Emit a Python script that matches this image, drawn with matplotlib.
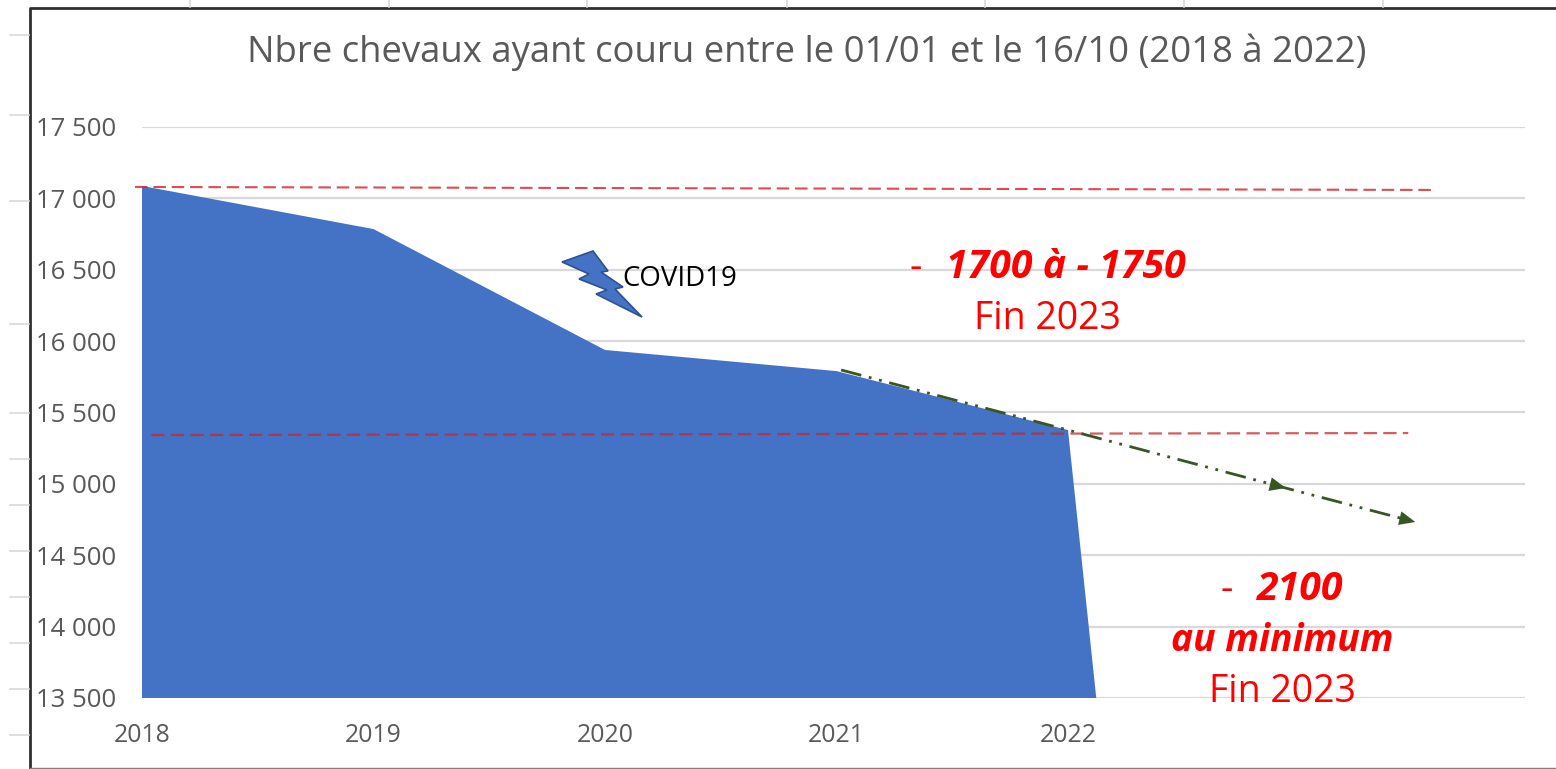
import numpy as np
import matplotlib
matplotlib.use('Agg')
import matplotlib.pyplot as plt
from matplotlib.patches import Polygon

plt.rcParams['font.family'] = ['Open Sans', 'DejaVu Sans']

#values
years = [2018, 2019, 2020, 2021, 2022, 2023]
horses = [17087, 16785, 15938, 15790, 15377, 0]
year_labels = ['2018', '2019', '2020', '2021', '2022']
y_ticks = [13500, 14000, 14500, 15000, 15500, 16000, 16500, 17000, 17500]
y_labels = ['13 500', '14 000', '14 500', '15 000', '15 500', '16 000', '16 500', '17 000', '17 500']
top_x = [2017.97, 2023.58]
top_y = [17080, 17059]
low_x = [2018.04, 2023.47]
low_y = [15342, 15356]
trend_x = [2021.02, 2022.0, 2022.94, 2023.5]
trend_y = [15798, 15377, 14971, 14733]

W, H = 1556, 769
fig = plt.figure(figsize=(W / 100, H / 100), dpi=100)

#main chart, placed on pixel positions
ax = fig.add_axes([142 / W, 1 - 698 / H, (1525 - 142) / W, (698 - 127) / H])
ax.set_xlim(2018, 2018 + (1525 - 142) / 231.5)
ax.set_ylim(13500, 17500)
ax.fill_between(years, horses, 13500, color='#4472C4', lw=0, zorder=2)
ax.set_yticks(y_ticks)
ax.set_yticklabels(y_labels, fontsize=18.5, color='#595959')
ax.set_xticks(years[:5])
ax.set_xticklabels(year_labels, fontsize=17.8, color='#595959')
ax.tick_params(length=0, axis='y', pad=18.7)
ax.tick_params(length=0, axis='x', pad=18)
ax.grid(axis='y', color='#D9D9D9', lw=1.6, zorder=1)
ax.set_axisbelow(True)
for s in ax.spines.values():
    s.set_visible(False)

ax.plot(top_x, top_y, color='#D92B32', lw=1.5, ls=(0, (6, 2.8)), alpha=0.85, clip_on=False, zorder=3)
ax.plot(low_x, low_y, color='#C8262E', lw=1.6, ls=(0, (6, 2.8)), alpha=0.75, clip_on=False, zorder=3)
ax.plot(trend_x, trend_y, color='#375623', lw=2, ls=(0, (7.5, 2.8, 1, 2.8, 1, 2.8)), zorder=4)
for i in [2, 3]:
    ax.annotate('', xy=(trend_x[i], trend_y[i]), xytext=(trend_x[i] - 0.1, trend_y[i] + 40),
                arrowprops=dict(arrowstyle='-|>,head_length=1.15,head_width=0.5', color='#375623', lw=0, shrinkA=0, shrinkB=0), zorder=5)

#overlay in pixels for frame, title and notes
ov = fig.add_axes([0, 0, 1, 1], facecolor='none')
ov.set_xlim(0, W)
ov.set_ylim(H, 0)
ov.axis('off')
ov.plot([30, 30, W], [H, 8, 8], color='#303030', lw=2)
ov.plot([30, W], [767.5, 767.5], color='#808080', lw=1)
for y in [35, 115, 201, 324, 413, 459, 505, 551, 597, 643, 689, 735]:
    ov.plot([10, 29], [y, y], color='#D9D9D9', lw=1.2)
for x in [190, 389, 587, 787, 985, 1184, 1383]:
    ov.plot([x, x], [0, 7], color='#D9D9D9', lw=1.2)

bolt = [(562, 262), (593, 251), (608, 271), (601, 272), (623, 287), (615, 289),
        (642, 317), (596, 294), (607, 290), (579, 279), (589, 274)]
ov.add_patch(Polygon(bolt, closed=True, facecolor='#4472C4', edgecolor='#2F528F', lw=1.2))

ov.text(807, 52, 'Nbre chevaux ayant couru entre le 01/01 et le 16/10 (2018 à 2022)',
        fontsize=26.3, color='#595959', ha='center', va='center')
ov.text(680, 279, 'COVID19', fontsize=19.9, color='black', ha='center', va='center')
ov.text(916, 268, '-', fontsize=28, color='red', ha='center', va='center')
ov.text(1066, 268, '1700 à - 1750', fontsize=28.3, color='red', ha='center', va='center',
        fontweight='bold', fontstyle='italic')
ov.text(1047, 319, 'Fin 2023', fontsize=27, color='red', ha='center', va='center')
ov.text(1227, 590, '-', fontsize=28, color='red', ha='center', va='center')
ov.text(1300, 590, '2100', fontsize=28.3, color='red', ha='center', va='center',
        fontweight='bold', fontstyle='italic')
ov.text(1282, 641, 'au minimum', fontsize=26.8, color='red', ha='center', va='center',
        fontweight='bold', fontstyle='italic')
ov.text(1282, 692, 'Fin 2023', fontsize=27, color='red', ha='center', va='center')

fig.savefig('out.png', dpi=100)
